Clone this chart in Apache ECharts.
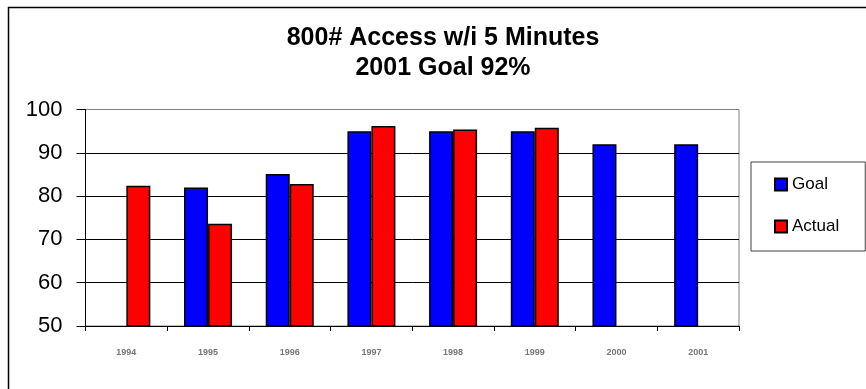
<!DOCTYPE html>
<html>
<head>
<meta charset="utf-8">
<script src="https://cdn.jsdelivr.net/npm/echarts@6/dist/echarts.min.js"></script>
<style>
html,body{margin:0;padding:0;background:#fff;}
#chart{width:866px;height:389px;}
</style>
</head>
<body>
<div id="chart"></div>
<script>
const categories = ['1994','1995','1996','1997','1998','1999','2000','2001'];
const goalValues = [null, 82, 85.1, 95, 95, 95, 92, 92];
const actualValues = [82.4, 73.6, 82.8, 96.2, 95.4, 95.8, null, null];
const yTicks = [50, 60, 70, 80, 90, 100];
const titleLines = ['800# Access w/i 5 Minutes', '2001 Goal 92%'];

const chart = echarts.init(document.getElementById('chart'), null, {renderer: 'canvas'});
const font = 'Liberation Sans, Arial, sans-serif';
chart.setOption({
  animation: false,
  backgroundColor: '#fff',
  title: {
    text: titleLines.join('\n'),
    left: 443,
    textAlign: 'center',
    top: 23,
    padding: 0,
    textStyle: {fontFamily: font, fontSize: 25, fontWeight: 'bold', color: '#000', lineHeight: 30}
  },
  graphic: [{
    type: 'rect', silent: true, z: -1,
    shape: {x: 8.5, y: 7.5, width: 1000, height: 1000},
    style: {fill: 'none', stroke: '#000', lineWidth: 1.5}
  }],
  legend: {
    orient: 'vertical',
    left: 751,
    top: 162,
    padding: [14, 26, 16, 23],
    itemWidth: 12,
    itemHeight: 12,
    itemGap: 25,
    itemTextGap: 2,
    icon: 'rect',
    borderColor: '#404040',
    borderWidth: 1,
    backgroundColor: '#fff',
    textStyle: {fontFamily: font, fontSize: 17, color: '#000', lineHeight: 16},
    data: ['Goal', 'Actual']
  },
  grid: {
    left: 85.5, right: 127, top: 109.5, bottom: 63,
    show: true, borderColor: '#808080', borderWidth: 1
  },
  xAxis: {
    type: 'category',
    data: categories,
    axisLine: {lineStyle: {color: '#000', width: 1}},
    axisTick: {show: true, length: 5, lineStyle: {color: '#000'}},
    axisLabel: {fontFamily: font, fontSize: 9, fontWeight: 'bold', color: '#777', margin: 22}
  },
  yAxis: {
    type: 'value',
    min: yTicks[0], max: yTicks[yTicks.length - 1], interval: 10,
    axisLine: {show: true, lineStyle: {color: '#000', width: 1}},
    axisTick: {show: true, length: 9, lineStyle: {color: '#000'}},
    axisLabel: {fontFamily: font, fontSize: 22, color: '#000', margin: 23},
    splitLine: {show: true, lineStyle: {color: ['#000', '#000', '#000', '#000', '#000', '#808080'], width: 1}}
  },
  series: [
    {
      name: 'Goal', type: 'bar', data: goalValues,
      barWidth: 24, barGap: '0%',
      itemStyle: {color: '#0000FF', borderColor: '#000', borderWidth: 1.5}
    },
    {
      name: 'Actual', type: 'bar', data: actualValues,
      barWidth: 24, barGap: '0%',
      itemStyle: {color: '#FF0000', borderColor: '#000', borderWidth: 1.5}
    }
  ]
});
</script>
</body>
</html>
